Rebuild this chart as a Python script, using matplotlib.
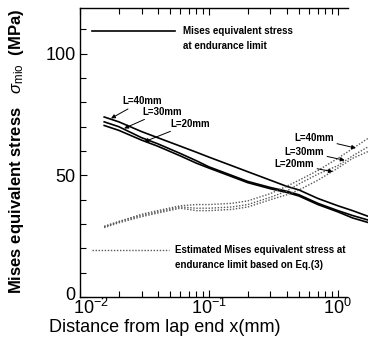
import matplotlib
matplotlib.use("Agg")
import matplotlib.pyplot as plt
import matplotlib.transforms as mtransforms
import numpy as np
from matplotlib.ticker import LogLocator, MultipleLocator, NullFormatter

plt.rcParams['font.family'] = ['Liberation Sans', 'DejaVu Sans']
plt.rcParams['mathtext.fontset'] = 'custom'
plt.rcParams['mathtext.rm'] = 'Liberation Sans'
plt.rcParams['mathtext.it'] = 'Liberation Sans:italic'

# distance from lap end (mm)
x = [0.0154, 0.02, 0.03, 0.04, 0.06, 0.08, 0.1, 0.15, 0.2, 0.3, 0.4, 0.5, 0.7, 1.0, 1.3, 1.75]

# Mises equivalent stress at endurance limit (solid)
solid_40 = [74, 72, 68, 65.5, 62, 59.5, 57.5, 54, 51.5, 48, 45.5, 44, 40.5, 37.5, 35.5, 33]
solid_30 = [72, 70, 65.5, 63, 59, 56, 53.5, 50, 47.5, 45, 43.5, 42, 38.5, 35.5, 33.5, 31.5]
solid_20 = [70.5, 68.5, 64.5, 62, 58, 55, 53, 49.5, 47, 44.5, 43, 41.5, 38, 35, 32.5, 30.5]

# estimated Mises equivalent stress based on Eq.(3) (dotted)
dot_40 = [29, 31, 34, 35.5, 37.5, 38, 38, 38.5, 39.5, 42.5, 45.5, 48, 52, 57, 61, 65.5]
dot_30 = [29, 31, 33.5, 35, 37, 36.5, 36.5, 37, 38, 41, 43.5, 46.5, 50.5, 54, 58, 62]
dot_20 = [28.5, 30.5, 33, 34.5, 36.5, 35.5, 35.5, 36, 37, 40, 42, 44, 48, 53, 57, 60]

W, H = 368, 343
fig = plt.figure(figsize=(W / 100, H / 100), dpi=100)
ax = fig.add_axes([80 / W, 1 - 297 / H, 288 / W, 289.5 / H])

for ys in (solid_40, solid_30, solid_20):
    ax.plot(x, ys, color='black', lw=1.2)
for ys in (dot_40, dot_30, dot_20):
    ax.plot(x, ys, color='0.35', lw=1.0, linestyle=(0, (1, 1.2)))

ax.set_xscale('log')
ax.set_xlim(0.01, 1.713)
ax.set_ylim(0, 119)

ax.xaxis.set_major_locator(LogLocator(base=10))
ax.xaxis.set_minor_locator(LogLocator(base=10, subs=np.arange(2, 10)))
ax.xaxis.set_minor_formatter(NullFormatter())
ax.yaxis.set_major_locator(MultipleLocator(50))
ax.yaxis.set_minor_locator(MultipleLocator(10))

ax.tick_params(which='both', direction='in', top=True, right=False,
               width=0.8, labelsize=13)
ax.tick_params(which='major', length=5, pad=3)
ax.tick_params(which='minor', length=4)
ax.tick_params(axis='x', pad=1)

ax.spines['right'].set_visible(False)
ax.spines['top'].set_bounds(0.01, 1.2)
ax.spines['bottom'].set_bounds(0.01, 1.17)
for s in ('left', 'top', 'bottom'):
    ax.spines[s].set_linewidth(1.0)

# in-plot key
tr = ax.transAxes
ax.plot([0.042, 0.33], [0.919, 0.919], color='black', lw=1.2, transform=tr)
ax.text(0.358, 0.935, "Mises equivalent stress\nat endurance limit",
        transform=tr, fontsize=7, fontweight='bold', va='top', ha='left',
        linespacing=1.6)
ax.plot([0.042, 0.31], [0.162, 0.162], color='0.35', lw=1.0,
        linestyle=(0, (1, 1.2)), transform=tr)
ax.text(0.33, 0.18, "Estimated Mises equivalent stress at\nendurance limit based on Eq.(3)",
        transform=tr, fontsize=7, fontweight='bold', va='top', ha='left',
        linespacing=1.6)

arrow = dict(arrowstyle='-|>', lw=0.7, color='black', mutation_scale=6,
             shrinkA=0, shrinkB=0)
labels = [
    ("L=40mm", (0.0212, 80.5), (0.0174, 73.4)),
    ("L=30mm", (0.0304, 76.2), (0.022, 69.3)),
    ("L=20mm", (0.05, 71.3), (0.0315, 63.8)),
    ("L=40mm", (0.462, 65.2), (1.38, 61.2)),
    ("L=30mm", (0.387, 59.8), (1.13, 56.2)),
    ("L=20mm", (0.324, 54.5), (0.914, 51.5)),
]
for txt, pos, tip in labels:
    ax.annotate(txt, xy=tip, xytext=pos, fontsize=7, fontweight='bold',
                ha='left', va='center', arrowprops=arrow)

# corner labels: "10^-2" a little to the right, "0" a little up
fig.canvas.draw()
for lab in ax.get_xticklabels():
    if lab.get_position()[0] <= 0.0101:
        lab.set_transform(lab.get_transform() +
                          mtransforms.ScaledTranslation(11 / 100, 0, fig.dpi_scale_trans))
for lab in ax.get_yticklabels():
    if lab.get_position()[1] == 0:
        lab.set_transform(lab.get_transform() +
                          mtransforms.ScaledTranslation(0, 3 / 100, fig.dpi_scale_trans))

fig.text(165 / W, 1 - 328 / H, "Distance from lap end x(mm)", fontsize=13,
         ha='center', va='center')
fig.text(17 / W, 1 - 151 / H,
         r"Mises equivalent stress   $\sigma_{\rm mio}$  (MPa)",
         rotation=90, fontsize=12, fontweight='bold', ha='center', va='center')

fig.savefig("out.png", dpi=100)
